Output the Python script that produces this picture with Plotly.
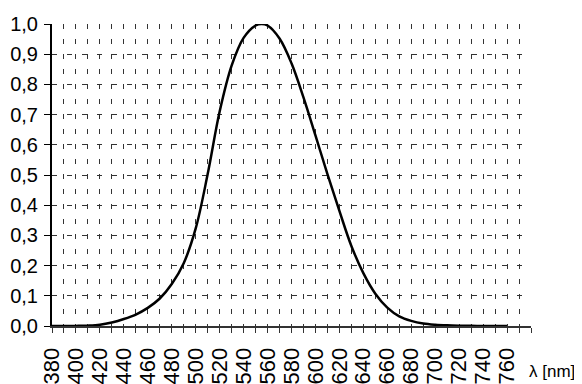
import plotly.graph_objects as go

# CIE photopic luminosity function V(lambda), 10 nm steps
wavelength_nm = [380, 390, 400, 410, 420, 430, 440, 450, 460, 470, 480, 490,
                 500, 510, 520, 530, 540, 550, 555, 560, 570, 580, 590, 600,
                 610, 620, 630, 640, 650, 660, 670, 680, 690, 700, 710, 720,
                 730, 740, 750, 760]
v_lambda = [0.00004, 0.00012, 0.0004, 0.0012, 0.004, 0.0116, 0.023, 0.038,
            0.06, 0.091, 0.139, 0.208, 0.323, 0.503, 0.71, 0.862, 0.954,
            0.995, 1.0, 0.995, 0.952, 0.870, 0.757, 0.631, 0.503, 0.381,
            0.265, 0.175, 0.107, 0.061, 0.032, 0.017, 0.0082, 0.0041, 0.0021,
            0.00105, 0.00052, 0.00025, 0.00012, 0.00006]

x_ticks = list(range(380, 790, 10))
x_labels = [str(v) if (v % 20 == 0 and v <= 760) else "" for v in x_ticks]
y_ticks = [i / 10 for i in range(11)]
y_labels = [f"{v:.1f}".replace(".", ",") for v in y_ticks]

font = "Arial, Liberation Sans, sans-serif"
grid = dict(gridcolor="#333", griddash="5px,10px", gridwidth=1)

fig = go.Figure()
fig.add_trace(go.Scatter(x=wavelength_nm, y=v_lambda, mode="lines",
                         line=dict(color="black", width=2.5, shape="spline"),
                         showlegend=False))
fig.add_annotation(text="λ [nm]", xref="paper", yref="paper", x=1.095, y=-0.19,
                   xanchor="right", yanchor="bottom", showarrow=False,
                   font=dict(family=font, size=17, color="black"))
# page body adds an 8px offset, so the figure is 8px smaller and margins shifted
fig.update_layout(
    width=574, height=376, margin=dict(l=44, r=51, t=16, b=58),
    plot_bgcolor="white", paper_bgcolor="white",
    font=dict(family=font, size=20, color="black"),
)
fig.update_xaxes(range=[380, 780], tickvals=x_ticks, ticktext=x_labels,
                 tickangle=-90, ticks="outside", ticklen=5, tickcolor="#333",
                 tickfont=dict(size=22), ticklabelstandoff=6,
                 showline=True, linecolor="#333", linewidth=2, automargin=False,
                 showgrid=True, zeroline=False, **grid)
fig.update_yaxes(range=[0, 1.0], tickvals=y_ticks, ticktext=y_labels,
                 ticks="outside", ticklen=6, tickcolor="black",
                 tickfont=dict(size=20), ticklabelstandoff=2,
                 showline=True, linecolor="black", linewidth=2, automargin=False,
                 showgrid=True, zeroline=False, **grid)
fig.write_html("out.html")
